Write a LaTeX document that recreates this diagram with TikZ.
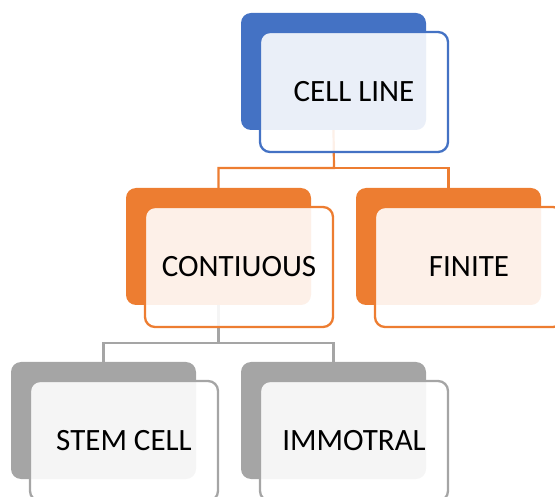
\documentclass[tikz,border=0pt]{standalone}
\usepackage{fontspec}
\setmainfont{Carlito}
\usetikzlibrary{backgrounds}

\definecolor{lineblue}{HTML}{4472C4}
\definecolor{lineorange}{HTML}{ED7D31}
\definecolor{linegray}{HTML}{A5A5A5}

\tikzset{
  backbox/.style={fill=#1, rounded corners=10pt, minimum width=185pt, minimum height=117pt, inner sep=0pt},
  frontbox/.style={draw=#1, fill=white, line width=2.3pt, fill opacity=0.89, draw opacity=1, text opacity=1,
    rounded corners=10pt, minimum width=188pt, minimum height=120pt, inner sep=0pt,
    font=\fontsize{31}{37}\selectfont},
  link/.style={draw=#1, line width=2.2pt}
}

\begin{document}
\begin{tikzpicture}[x=1pt,y=-1pt]
\useasboundingbox (0,0) rectangle (555,497);

%boxes: back shape, then front shape with the label
\foreach \n/\x/\y/\c/\t in {cell/241/13/lineblue/CELL LINE, cont/126/188/lineorange/CONTIUOUS,
  fin/356/188/lineorange/FINITE, stem/11/362/linegray/STEM CELL, imm/241/362/linegray/IMMOTRAL}
{
  \node[backbox=\c] (\n-b) at (\x+92.5,\y+58.5) {};
  \node[frontbox=\c] (\n) at (\x+113,\y+79) {\t};
}

%connectors
\begin{pgfonlayer}{background}
  \coordinate (cellfork) at (334,168);
  \coordinate (contfork) at (218.5,343);
  \draw[link=lineorange] (cell-b.south) -- (cellfork) -| (cont-b.north);
  \draw[link=lineorange] (cellfork) -| (fin-b.north);
  \draw[link=linegray] (cont-b.south) -- (contfork) -| (stem-b.north);
  \draw[link=linegray] (contfork) -| (imm-b.north);
\end{pgfonlayer}
\end{tikzpicture}
\end{document}
